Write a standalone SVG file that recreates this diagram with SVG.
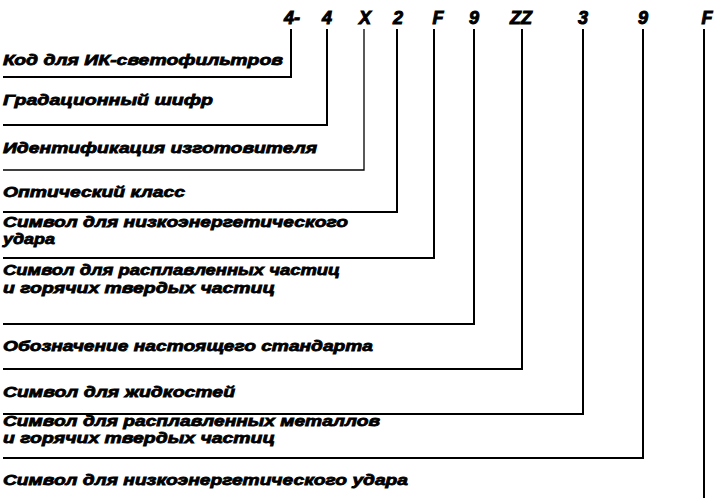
<svg xmlns="http://www.w3.org/2000/svg" width="715" height="498" viewBox="0 0 715 498">
<style>
.lbl{font-family:"Liberation Sans",Arial,sans-serif;font-size:15px;font-weight:bold;font-style:italic;fill:#000;stroke:#000;stroke-width:0.8}
.code{font-family:"Liberation Sans",Arial,sans-serif;font-size:18px;font-weight:bold;font-style:italic;fill:#000;stroke:#000;stroke-width:1;text-anchor:middle}
.conn{fill:none;stroke:#000;stroke-width:2}
.thin{stroke-width:1.3}
</style>
<rect width="715" height="498" fill="#fff"/>
<g id="codes">
<g id="c1"><text class="code" x="292" y="24">4-</text></g>
<g id="c2"><text class="code" x="327" y="24">4</text></g>
<g id="c3"><text class="code" x="365" y="24">X</text></g>
<g id="c4"><text class="code" x="398" y="24">2</text></g>
<g id="c5"><text class="code" x="438" y="24">F</text></g>
<g id="c6"><text class="code" x="474" y="24">9</text></g>
<g id="c7"><text class="code" x="521" y="24">ZZ</text></g>
<g id="c8"><text class="code" x="583" y="24">3</text></g>
<g id="c9"><text class="code" x="643" y="24">9</text></g>
<g id="c10"><text class="code" x="707" y="24">F</text></g>
</g>
<g id="connectors">
<path class="conn" d="M3 77H291V29"/>
<path class="conn" d="M3 125H327V29"/>
<path class="conn thin" d="M3 170H364V29"/>
<path class="conn" d="M3 212H397V29"/>
<path class="conn" d="M3 258H434V29"/>
<path class="conn" d="M3 324H474V29"/>
<path class="conn" d="M3 369H522V29"/>
<path class="conn" d="M3 414H583V29"/>
<path class="conn" d="M3 458H643V29"/>
<path class="conn" d="M704 29V498"/>
</g>
<g id="n1"><text class="lbl" x="3" y="65" textLength="280" lengthAdjust="spacingAndGlyphs">Код для ИК-светофильтров</text></g>
<g id="n2"><text class="lbl" x="3" y="105" textLength="210" lengthAdjust="spacingAndGlyphs">Градационный шифр</text></g>
<g id="n3"><text class="lbl" x="3" y="153" textLength="314" lengthAdjust="spacingAndGlyphs">Идентификация изготовителя</text></g>
<g id="n4"><text class="lbl" x="3" y="197" textLength="182" lengthAdjust="spacingAndGlyphs">Оптический класс</text></g>
<g id="n5"><text class="lbl" x="3" y="227" textLength="345" lengthAdjust="spacingAndGlyphs">Символ для низкоэнергетического</text><text class="lbl" x="3" y="244" textLength="52" lengthAdjust="spacingAndGlyphs">удара</text></g>
<g id="n6"><text class="lbl" x="3" y="275" textLength="337" lengthAdjust="spacingAndGlyphs">Символ для расплавленных частиц</text><text class="lbl" x="3" y="293" textLength="272" lengthAdjust="spacingAndGlyphs">и горячих твердых частиц</text></g>
<g id="n7"><text class="lbl" x="3" y="351" textLength="370" lengthAdjust="spacingAndGlyphs">Обозначение настоящего стандарта</text></g>
<g id="n8"><text class="lbl" x="3" y="397" textLength="232" lengthAdjust="spacingAndGlyphs">Символ для жидкостей</text></g>
<g id="n9"><text class="lbl" x="3" y="426" textLength="377" lengthAdjust="spacingAndGlyphs">Символ для расплавленных металлов</text><text class="lbl" x="3" y="443" textLength="272" lengthAdjust="spacingAndGlyphs">и горячих твердых частиц</text></g>
<g id="n10"><text class="lbl" x="3" y="485" textLength="405" lengthAdjust="spacingAndGlyphs">Символ для низкоэнергетического удара</text></g>
</svg>
